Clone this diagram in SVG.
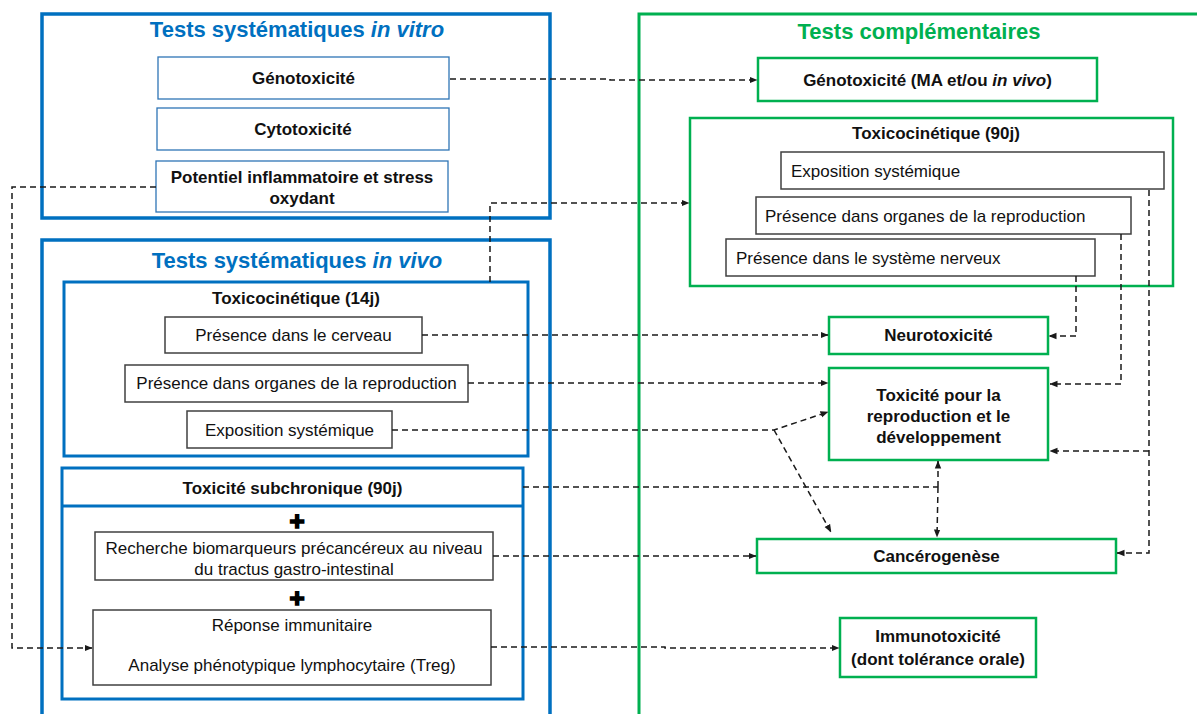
<svg xmlns="http://www.w3.org/2000/svg" width="1197" height="714" viewBox="0 0 1197 714">
  <style>
    .bg { fill: #ffffff; }
    .grp-blue { fill: none; stroke: #0070C0; stroke-width: 3.5; }
    .sub-blue { fill: #ffffff; stroke: #0070C0; stroke-width: 3; }
    .thin-blue { fill: #ffffff; stroke: #2E75B6; stroke-width: 1.3; }
    .grp-green { fill: none; stroke: #00B050; stroke-width: 3; }
    .box-green { fill: #ffffff; stroke: #00B050; stroke-width: 2.5; }
    .box-grey { fill: #ffffff; stroke: #404040; stroke-width: 1.5; }
    .title { font-family: "Liberation Sans", Arial, sans-serif; font-size: 22px; font-weight: bold; text-anchor: middle; }
    .t-blue { fill: #0070C0; }
    .t-green { fill: #00B050; }
    .lb { font-family: "Liberation Sans", Arial, sans-serif; font-size: 17px; font-weight: bold; fill: #111; text-anchor: middle; }
    .lr { font-family: "Liberation Sans", Arial, sans-serif; font-size: 17px; fill: #111; text-anchor: middle; }
    .ll { font-family: "Liberation Sans", Arial, sans-serif; font-size: 17px; fill: #111; }
    .plus { font-family: "Liberation Sans", Arial, sans-serif; font-size: 26px; font-weight: bold; fill: #000; stroke: #000; stroke-width: 1.6; text-anchor: middle; }
    .conn { fill: none; stroke: #1a1a1a; stroke-width: 1.5; stroke-dasharray: 6 4; }
  </style>
  <defs>
    <marker id="arr" viewBox="0 0 8 8" refX="7.5" refY="4" markerWidth="8" markerHeight="8" markerUnits="userSpaceOnUse" orient="auto-start-reverse">
      <path d="M0,0.8 L8,4 L0,7.2 z" fill="#1a1a1a"/>
    </marker>
  </defs>

  <rect class="bg" x="0" y="0" width="1197" height="714"/>

  <!-- In vitro group -->
  <g id="in-vitro">
    <rect class="grp-blue" x="42" y="14" width="508" height="204"/>
    <text class="title t-blue" x="297" y="37">Tests systématiques <tspan font-style="italic">in vitro</tspan></text>
  </g>
  <g id="genotox-vitro">
    <rect class="thin-blue" x="158" y="57" width="291" height="42"/>
    <text class="lb" x="303.5" y="84">Génotoxicité</text>
  </g>
  <g id="cytotox">
    <rect class="thin-blue" x="157" y="108" width="292" height="42"/>
    <text class="lb" x="303" y="135">Cytotoxicité</text>
  </g>
  <g id="inflammation">
    <rect class="thin-blue" x="156" y="161" width="292" height="51"/>
    <text class="lb" x="302" y="183">Potentiel inflammatoire et stress</text>
    <text class="lb" x="302" y="204">oxydant</text>
  </g>

  <!-- In vivo group -->
  <g id="in-vivo">
    <rect class="grp-blue" x="42" y="240" width="508" height="490"/>
    <text class="title t-blue" x="297" y="268">Tests systématiques <tspan font-style="italic">in vivo</tspan></text>
  </g>
  <g id="tk-14j">
    <rect class="sub-blue" x="64" y="282" width="464" height="174"/>
    <text class="lb" x="296" y="304">Toxicocinétique (14j)</text>
  </g>
  <g id="brain">
    <rect class="box-grey" x="165" y="317" width="257" height="36"/>
    <text class="lr" x="293.5" y="341">Présence dans le cerveau</text>
  </g>
  <g id="repro-organs-14j">
    <rect class="box-grey" x="125" y="365" width="343" height="37"/>
    <text class="lr" x="296.5" y="389">Présence dans organes de la reproduction</text>
  </g>
  <g id="exposure-14j">
    <rect class="box-grey" x="187" y="411" width="205" height="37"/>
    <text class="lr" x="289.5" y="436">Exposition systémique</text>
  </g>
  <g id="subchronic">
    <rect class="sub-blue" x="62" y="468" width="461" height="231"/>
    <line x1="62" y1="506" x2="523" y2="506" stroke="#0070C0" stroke-width="3"/>
    <text class="lb" x="292.5" y="494">Toxicité subchronique (90j)</text>
    <text class="plus" x="297" y="530">+</text>
    <text class="plus" x="297" y="607">+</text>
  </g>
  <g id="biomarkers">
    <rect class="box-grey" x="95" y="532" width="398" height="48"/>
    <text class="lr" x="294" y="554">Recherche biomarqueurs précancéreux au niveau</text>
    <text class="lr" x="294" y="575">du tractus gastro-intestinal</text>
  </g>
  <g id="immune-response">
    <rect class="box-grey" x="93" y="610" width="398" height="75"/>
    <text class="lr" x="292" y="631">Réponse immunitaire</text>
    <text class="lr" x="292" y="671">Analyse phénotypique lymphocytaire (Treg)</text>
  </g>

  <!-- Complementary tests group -->
  <g id="complementary">
    <rect class="grp-green" x="639" y="14" width="580" height="720"/>
    <text class="title t-green" x="919" y="39">Tests complémentaires</text>
  </g>
  <g id="genotox-vivo">
    <rect class="box-green" x="758" y="58" width="339" height="43"/>
    <text class="lb" x="927.5" y="86">Génotoxicité (MA et/ou <tspan font-style="italic">in vivo</tspan>)</text>
  </g>
  <g id="tk-90j">
    <rect class="box-green" x="690" y="118" width="483" height="168"/>
    <text class="lb" x="936" y="139">Toxicocinétique (90j)</text>
  </g>
  <g id="exposure-90j">
    <rect class="box-grey" x="781" y="152" width="383" height="37"/>
    <text class="ll" x="791" y="177">Exposition systémique</text>
  </g>
  <g id="repro-organs-90j">
    <rect class="box-grey" x="756" y="197" width="375" height="37"/>
    <text class="ll" x="765" y="222">Présence dans organes de la reproduction</text>
  </g>
  <g id="nervous-system">
    <rect class="box-grey" x="726" y="239" width="369" height="37"/>
    <text class="ll" x="736" y="264">Présence dans le système nerveux</text>
  </g>
  <g id="neurotox">
    <rect class="box-green" x="829" y="317" width="219" height="37"/>
    <text class="lb" x="938.5" y="341">Neurotoxicité</text>
  </g>
  <g id="reprotox">
    <rect class="box-green" x="829" y="368" width="219" height="92"/>
    <text class="lb" x="938.5" y="401">Toxicité pour la</text>
    <text class="lb" x="938.5" y="422">reproduction et le</text>
    <text class="lb" x="938.5" y="443">développement</text>
  </g>
  <g id="carcino">
    <rect class="box-green" x="757" y="539" width="359" height="34"/>
    <text class="lb" x="936.5" y="562">Cancérogenèse</text>
  </g>
  <g id="immunotox">
    <rect class="box-green" x="840" y="618" width="196" height="59"/>
    <text class="lb" x="938" y="642">Immunotoxicité</text>
    <text class="lb" x="938" y="665">(dont tolérance orale)</text>
  </g>

  <!-- Connectors -->
  <g id="connectors">
    <polyline class="conn" points="450,79 610,79 610,80 757,80" marker-end="url(#arr)"/>
    <polyline class="conn" points="156,187 12,187 12,648 92,648" marker-end="url(#arr)"/>
    <polyline class="conn" points="490,282 490,203 689,203" marker-end="url(#arr)"/>
    <line class="conn" x1="422" y1="335" x2="828" y2="335" marker-end="url(#arr)"/>
    <line class="conn" x1="468" y1="383" x2="828" y2="383" marker-end="url(#arr)"/>
    <polyline class="conn" points="392,430 774,430 828,412" marker-end="url(#arr)"/>
    <line class="conn" x1="774" y1="430" x2="831" y2="532" marker-end="url(#arr)"/>
    <line class="conn" x1="523" y1="487" x2="938" y2="487"/>
    <line class="conn" x1="938" y1="487" x2="938" y2="461" marker-end="url(#arr)"/>
    <line class="conn" x1="938" y1="487" x2="937" y2="537" marker-end="url(#arr)"/>
    <line class="conn" x1="493" y1="556" x2="756" y2="556" marker-end="url(#arr)"/>
    <polyline class="conn" points="491,647 665,647 665,648 839,648" marker-end="url(#arr)"/>
    <polyline class="conn" points="1076,276 1076,336 1049,336" marker-end="url(#arr)"/>
    <polyline class="conn" points="1121,234 1121,384 1050,384" marker-end="url(#arr)"/>
    <polyline class="conn" points="1149,190 1149,553 1117,553" marker-end="url(#arr)"/>
    <line class="conn" x1="1149" y1="451" x2="1050" y2="451" marker-end="url(#arr)"/>
  </g>
</svg>
